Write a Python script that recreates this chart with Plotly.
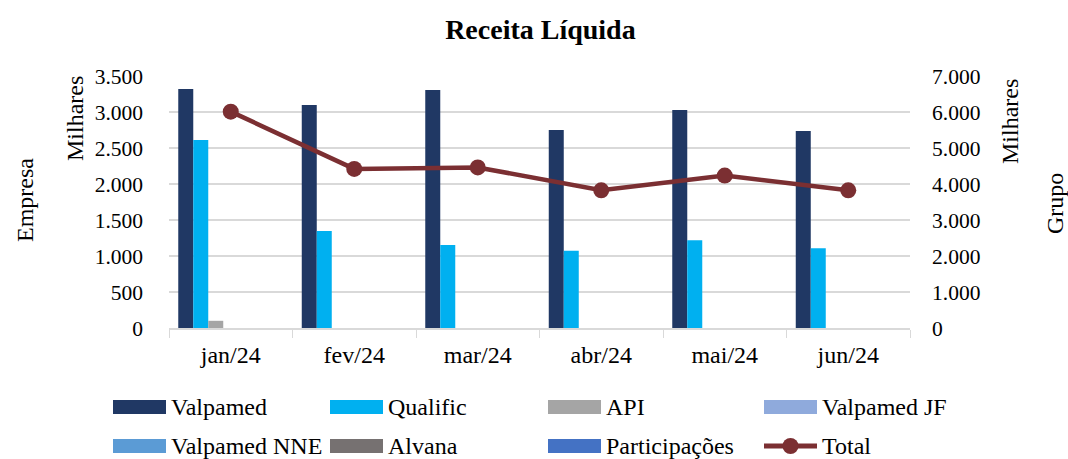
import plotly.graph_objects as go

months = ["jan/24", "fev/24", "mar/24", "abr/24", "mai/24", "jun/24"]
valpamed = [3320, 3097, 3306, 2750, 3028, 2736]
qualific = [2611, 1347, 1153, 1074, 1218, 1107]
api = [100, 0, 0, 0, 0, 0]
valpamed_jf = [0, 0, 0, 0, 0, 0]
valpamed_nne = [0, 0, 0, 0, 0, 0]
alvana = [0, 0, 0, 0, 0, 0]
participacoes = [0, 0, 0, 0, 0, 0]
total = [6010, 4420, 4460, 3825, 4235, 3825]

series = [
    ("Valpamed", valpamed, "#203864"),
    ("Qualific", qualific, "#00B0F0"),
    ("API", api, "#A5A5A5"),
    ("Valpamed JF", valpamed_jf, "#8FAADC"),
    ("Valpamed NNE", valpamed_nne, "#5B9BD5"),
    ("Alvana", alvana, "#767171"),
    ("Participações", participacoes, "#4472C4"),
]
total_color = "#7B2F32"
FONT = "Liberation Serif"
W, H = 1068, 459
L, R, T, B = 169, 158, 76, 131
PW, PH = W - L - R, H - T - B


def px_x(x):
    return (x - L) / PW


def px_y(y):
    return (H - B - y) / PH


fig = go.Figure()
for name, vals, color in series:
    fig.add_trace(go.Bar(x=months, y=vals, name=name, marker_color=color,
                         marker_line_width=0, yaxis="y"))
fig.add_trace(go.Scatter(x=months, y=total, name="Total", mode="lines+markers",
                         line=dict(color=total_color, width=4.5),
                         marker=dict(size=16, color=total_color),
                         yaxis="y2"))

fig.update_layout(
    width=W, height=H,
    margin=dict(l=L, r=R, t=T, b=B, autoexpand=False),
    paper_bgcolor="white", plot_bgcolor="white",
    font=dict(family=FONT, size=21, color="#000000"),
    separators=",.",
    showlegend=False,
    barmode="group", bargap=0.15, bargroupgap=0,
    title=dict(text="<b>Receita Líquida</b>", x=0.506, xanchor="center",
               xref="container", yref="container",
               y=1 - 29 / H, yanchor="middle", font=dict(size=28, family=FONT)),
    xaxis=dict(type="category", showgrid=False, showline=True, automargin=False,
               linecolor="#D9D9D9", linewidth=1.5, ticks="outside",
               tickson="boundaries", ticklen=8, tickcolor="#D9D9D9",
               tickfont=dict(size=24), ticklabelstandoff=4),
    yaxis=dict(range=[0, 3500], dtick=500, tickformat=",.0f", automargin=False,
               showgrid=True, gridcolor="#D9D9D9", gridwidth=1.5,
               zeroline=False, showline=False, ticks="",
               tickfont=dict(size=21.5), ticklabelstandoff=25),
    yaxis2=dict(range=[0, 7000], dtick=1000, tickformat=",.0f", automargin=False,
                overlaying="y", side="right", showgrid=False, zeroline=False,
                showline=False, ticks="", tickfont=dict(size=21.5),
                ticklabelstandoff=21),
)

# axis titles
annos = [
    ("Empresa", 25, 200),
    ("Milhares", 75, 119),
    ("Milhares", 1010, 122),
    ("Grupo", 1055, 204),
]
for text, ax, ay in annos:
    fig.add_annotation(text=text, textangle=-90,
                       x=px_x(ax), y=px_y(ay), xref="paper", yref="paper",
                       showarrow=False, font=dict(size=24, family=FONT),
                       xanchor="center", yanchor="middle")

# legend (4 columns x 2 rows) with wide swatches
col_x = [113, 330, 548, 764]
row_y = [407, 446]
sw_w, sw_h = 53, 14
entries = [(n, c) for n, _, c in series] + [("Total", total_color)]
for i, (name, color) in enumerate(entries):
    cx = col_x[i % 4]
    cy = row_y[i // 4]
    if name == "Total":
        fig.add_shape(type="line", xref="paper", yref="paper",
                      x0=px_x(cx), x1=px_x(cx + sw_w), y0=px_y(cy), y1=px_y(cy),
                      line=dict(color=color, width=5))
        fig.add_shape(type="circle", xref="paper", yref="paper",
                      x0=px_x(cx + sw_w / 2 - 8), x1=px_x(cx + sw_w / 2 + 8),
                      y0=px_y(cy + 8), y1=px_y(cy - 8),
                      fillcolor=color, line=dict(color=color, width=0))
    else:
        fig.add_shape(type="rect", xref="paper", yref="paper",
                      x0=px_x(cx), x1=px_x(cx + sw_w),
                      y0=px_y(cy + sw_h / 2), y1=px_y(cy - sw_h / 2),
                      fillcolor=color, line=dict(width=0))
    fig.add_annotation(text=name, x=px_x(cx + sw_w + 3), y=px_y(cy),
                       xref="paper", yref="paper", showarrow=False,
                       xanchor="left", yanchor="middle",
                       font=dict(size=24, family=FONT))

fig.write_html("out.html", config={"displayModeBar": False})

# remove default page margin so the figure fills the window exactly
with open("out.html", "r", encoding="utf-8") as f:
    html = f.read()
html = html.replace("<head>", "<head><style>html,body{margin:0;padding:0;overflow:hidden;}</style>", 1)
with open("out.html", "w", encoding="utf-8") as f:
    f.write(html)
